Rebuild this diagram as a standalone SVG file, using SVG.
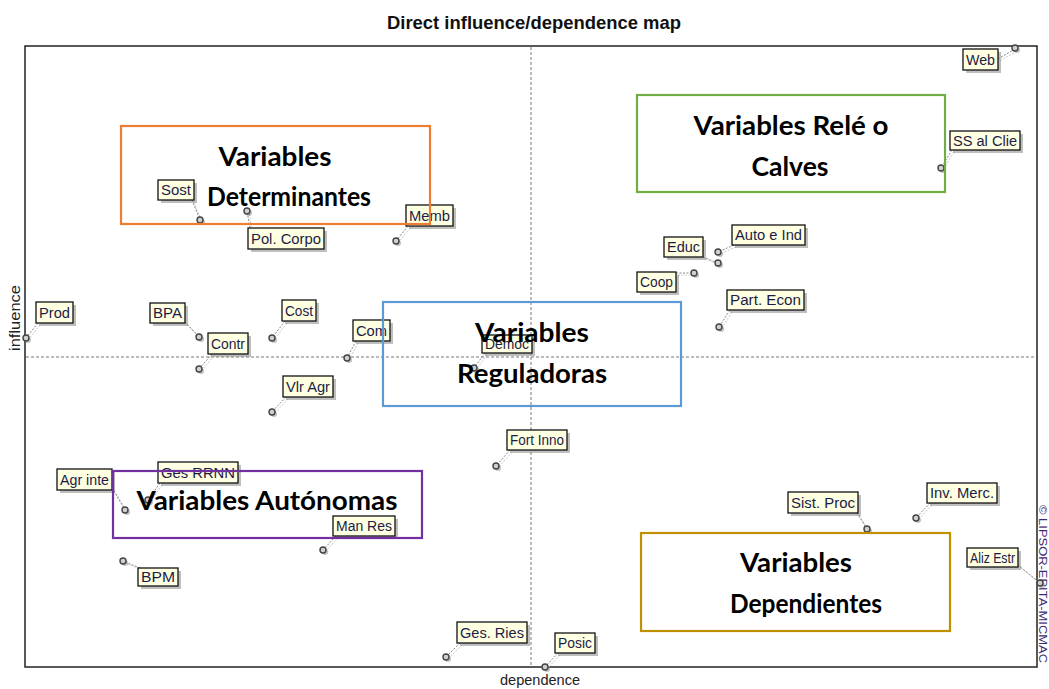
<svg xmlns="http://www.w3.org/2000/svg" width="1049" height="689" viewBox="0 0 1049 689">
<style>
  .title{font-family:"Liberation Sans",Arial,sans-serif;font-weight:bold;font-size:19px;fill:#111}
  .axis{font-family:"Liberation Sans",Arial,sans-serif;font-size:14px;fill:#222}
  .frame{fill:none;stroke:#222;stroke-width:1.5}
  .mid{stroke:#777;stroke-width:1;stroke-dasharray:3,2}
  .lbl rect.box{fill:#FFFFE1;stroke:#111;stroke-width:1.3}
  .lbl rect.sh{fill:#8a8a8a;opacity:.55}
  .lbl text{font-family:"Liberation Sans",Arial,sans-serif;font-size:15.5px;fill:#1c1c48}
  .conn line{stroke:#888;stroke-width:1;stroke-dasharray:2,1.5}
  .conn line.s{stroke:#c8c8c8}
  .pt{fill:#d0d0d0;stroke:#444;stroke-width:1.4}
  .pts{fill:#999;opacity:.6}
  .zone{fill:none;stroke-width:2.2}
  .zt{font-family:Lato,"Open Sans","Liberation Sans",sans-serif;font-weight:bold;font-size:26px;fill:#000;text-anchor:middle}
  .copy{font-family:"Liberation Sans",Arial,sans-serif;font-size:11px;fill:#3b2a70}
</style>

<text class="title" x="534" y="29" text-anchor="middle" textLength="294" lengthAdjust="spacingAndGlyphs">Direct influence/dependence map</text>

<!-- plot frame and median axes -->
<g id="plot">
  <rect class="frame" x="25" y="46" width="1012" height="621"/>
  <line class="mid" x1="531" y1="47" x2="531" y2="666"/>
  <line class="mid" x1="26" y1="357" x2="1036" y2="357"/>
  <text class="axis" transform="translate(20,318) rotate(-90)" text-anchor="middle" textLength="66" lengthAdjust="spacingAndGlyphs">influence</text>
  <text class="axis" x="540" y="685" text-anchor="middle" textLength="80" lengthAdjust="spacingAndGlyphs">dependence</text>
  <text class="copy" transform="translate(1039,505) rotate(90)" textLength="158" lengthAdjust="spacingAndGlyphs">© LIPSOR-EPITA-MICMAC</text>
</g>

<!-- leader lines from labels to their points -->
<g id="connectors" class="conn">
  <line class="s" x1="1000" y1="61" x2="1017" y2="51"/><line x1="998" y1="59" x2="1015" y2="49"/>
  <line class="s" x1="954" y1="152" x2="943" y2="170"/><line x1="952" y1="150" x2="941" y2="168"/>
  <line class="s" x1="194" y1="202" x2="202" y2="222"/><line x1="192" y1="200" x2="200" y2="220"/>
  <line class="s" x1="252" y1="230" x2="249" y2="213"/><line x1="250" y1="228" x2="247" y2="211"/>
  <line class="s" x1="410" y1="228" x2="398" y2="243"/><line x1="408" y1="226" x2="396" y2="241"/>
  <line class="s" x1="705" y1="259" x2="720" y2="265"/><line x1="703" y1="257" x2="718" y2="263"/>
  <line class="s" x1="736" y1="247" x2="720" y2="254"/><line x1="734" y1="245" x2="718" y2="252"/>
  <line class="s" x1="678" y1="275" x2="696" y2="275"/><line x1="676" y1="273" x2="694" y2="273"/>
  <line class="s" x1="732" y1="312" x2="721" y2="329"/><line x1="730" y1="310" x2="719" y2="327"/>
  <line class="s" x1="40" y1="325" x2="28" y2="340"/><line x1="38" y1="323" x2="26" y2="338"/>
  <line class="s" x1="187" y1="324" x2="201" y2="339"/><line x1="185" y1="322" x2="199" y2="337"/>
  <line class="s" x1="214" y1="356" x2="201" y2="371"/><line x1="212" y1="354" x2="199" y2="369"/>
  <line class="s" x1="287" y1="323" x2="274" y2="340"/><line x1="285" y1="321" x2="272" y2="338"/>
  <line class="s" x1="358" y1="343" x2="349" y2="360"/><line x1="356" y1="341" x2="347" y2="358"/>
  <line class="s" x1="288" y1="399" x2="274" y2="414"/><line x1="286" y1="397" x2="272" y2="412"/>
  <line class="s" x1="487" y1="355" x2="476" y2="370"/><line x1="485" y1="353" x2="474" y2="368"/>
  <line class="s" x1="512" y1="452" x2="498" y2="468"/><line x1="510" y1="450" x2="496" y2="466"/>
  <line class="s" x1="462" y1="645" x2="448" y2="659"/><line x1="460" y1="643" x2="446" y2="657"/>
  <line class="s" x1="560" y1="655" x2="547" y2="669"/><line x1="558" y1="653" x2="545" y2="667"/>
  <line class="s" x1="114" y1="490" x2="127" y2="512"/><line x1="112" y1="488" x2="125" y2="510"/>
  <line class="s" x1="162" y1="485" x2="150" y2="502"/><line x1="160" y1="483" x2="148" y2="500"/>
  <line class="s" x1="338" y1="538" x2="325" y2="552"/><line x1="336" y1="536" x2="323" y2="550"/>
  <line class="s" x1="142" y1="570" x2="125" y2="563"/><line x1="140" y1="568" x2="123" y2="561"/>
  <line class="s" x1="859" y1="515" x2="869" y2="531"/><line x1="857" y1="513" x2="867" y2="529"/>
  <line class="s" x1="932" y1="505" x2="918" y2="520"/><line x1="930" y1="503" x2="916" y2="518"/>
  <line class="s" x1="1020" y1="567" x2="1042" y2="585"/><line x1="1018" y1="565" x2="1040" y2="583"/>
</g>

<!-- data points -->
<g id="points">
  <g class="pts">
    <circle cx="1017" cy="50" r="3"/><circle cx="943" cy="170" r="3"/><circle cx="202" cy="222" r="3"/>
    <circle cx="249" cy="213" r="3"/><circle cx="398" cy="243" r="3"/><circle cx="720" cy="265" r="3"/>
    <circle cx="720" cy="254" r="3"/><circle cx="696" cy="275" r="3"/><circle cx="721" cy="329" r="3"/>
    <circle cx="28" cy="340" r="3"/><circle cx="201" cy="339" r="3"/><circle cx="201" cy="371" r="3"/>
    <circle cx="274" cy="340" r="3"/><circle cx="349" cy="360" r="3"/><circle cx="274" cy="414" r="3"/>
    <circle cx="476" cy="370" r="3"/><circle cx="498" cy="468" r="3"/><circle cx="448" cy="659" r="3"/>
    <circle cx="547" cy="669" r="3"/><circle cx="127" cy="512" r="3"/><circle cx="150" cy="502" r="3"/>
    <circle cx="325" cy="552" r="3"/><circle cx="125" cy="563" r="3"/><circle cx="869" cy="531" r="3"/>
    <circle cx="918" cy="520" r="3"/><circle cx="1042" cy="585" r="3"/>
  </g>
  <g class="pt">
    <circle cx="1015" cy="48" r="3"/><circle cx="941" cy="168" r="3"/><circle cx="200" cy="220" r="3"/>
    <circle cx="247" cy="211" r="3"/><circle cx="396" cy="241" r="3"/><circle cx="718" cy="263" r="3"/>
    <circle cx="718" cy="252" r="3"/><circle cx="694" cy="273" r="3"/><circle cx="719" cy="327" r="3"/>
    <circle cx="26" cy="338" r="3"/><circle cx="199" cy="337" r="3"/><circle cx="199" cy="369" r="3"/>
    <circle cx="272" cy="338" r="3"/><circle cx="347" cy="358" r="3"/><circle cx="272" cy="412" r="3"/>
    <circle cx="474" cy="368" r="3"/><circle cx="496" cy="466" r="3"/><circle cx="446" cy="657" r="3"/>
    <circle cx="545" cy="667" r="3"/><circle cx="125" cy="510" r="3"/><circle cx="148" cy="500" r="3"/>
    <circle cx="323" cy="550" r="3"/><circle cx="123" cy="561" r="3"/><circle cx="867" cy="529" r="3"/>
    <circle cx="916" cy="518" r="3"/><circle cx="1040" cy="583" r="3"/>
  </g>
</g>

<!-- variable labels -->
<g id="n-web" class="lbl"><rect class="sh" x="966" y="52" width="35" height="21"/><rect class="box" x="963" y="49" width="35" height="21"/><text x="966" y="65" textLength="29" lengthAdjust="spacingAndGlyphs">Web</text></g>
<g id="n-ssclie" class="lbl"><rect class="sh" x="953" y="134" width="70" height="19"/><rect class="box" x="950" y="131" width="70" height="19"/><text x="953" y="146" textLength="64" lengthAdjust="spacingAndGlyphs">SS al Clie</text></g>
<g id="n-sost" class="lbl"><rect class="sh" x="161" y="183" width="36" height="20"/><rect class="box" x="158" y="180" width="36" height="20"/><text x="161" y="195" textLength="30" lengthAdjust="spacingAndGlyphs">Sost</text></g>
<g id="n-polcorpo" class="lbl"><rect class="sh" x="251" y="231" width="76" height="21"/><rect class="box" x="248" y="228" width="76" height="21"/><text x="251" y="244" textLength="70" lengthAdjust="spacingAndGlyphs">Pol. Corpo</text></g>
<g id="n-memb" class="lbl"><rect class="sh" x="409" y="208" width="47" height="21"/><rect class="box" x="406" y="205" width="47" height="21"/><text x="409" y="221" textLength="41" lengthAdjust="spacingAndGlyphs">Memb</text></g>
<g id="n-educ" class="lbl"><rect class="sh" x="667" y="240" width="39" height="20"/><rect class="box" x="664" y="237" width="39" height="20"/><text x="667" y="252" textLength="33" lengthAdjust="spacingAndGlyphs">Educ</text></g>
<g id="n-autoind" class="lbl"><rect class="sh" x="735" y="228" width="73" height="20"/><rect class="box" x="732" y="225" width="73" height="20"/><text x="735" y="240" textLength="67" lengthAdjust="spacingAndGlyphs">Auto e Ind</text></g>
<g id="n-coop" class="lbl"><rect class="sh" x="640" y="275" width="39" height="20"/><rect class="box" x="637" y="272" width="39" height="20"/><text x="640" y="287" textLength="33" lengthAdjust="spacingAndGlyphs">Coop</text></g>
<g id="n-parteco" class="lbl"><rect class="sh" x="730" y="293" width="77" height="20"/><rect class="box" x="727" y="290" width="77" height="20"/><text x="730" y="305" textLength="71" lengthAdjust="spacingAndGlyphs">Part. Econ</text></g>
<g id="n-prod" class="lbl"><rect class="sh" x="39" y="305" width="37" height="21"/><rect class="box" x="36" y="302" width="37" height="21"/><text x="39" y="318" textLength="31" lengthAdjust="spacingAndGlyphs">Prod</text></g>
<g id="n-bpa" class="lbl"><rect class="sh" x="153" y="306" width="35" height="20"/><rect class="box" x="150" y="303" width="35" height="20"/><text x="153" y="318" textLength="29" lengthAdjust="spacingAndGlyphs">BPA</text></g>
<g id="n-contr" class="lbl"><rect class="sh" x="211" y="336" width="40" height="21"/><rect class="box" x="208" y="333" width="40" height="21"/><text x="211" y="349" textLength="34" lengthAdjust="spacingAndGlyphs">Contr</text></g>
<g id="n-cost" class="lbl"><rect class="sh" x="285" y="303" width="34" height="21"/><rect class="box" x="282" y="300" width="34" height="21"/><text x="285" y="316" textLength="28" lengthAdjust="spacingAndGlyphs">Cost</text></g>
<g id="n-com" class="lbl"><rect class="sh" x="356" y="323" width="37" height="21"/><rect class="box" x="353" y="320" width="37" height="21"/><text x="356" y="336" textLength="31" lengthAdjust="spacingAndGlyphs">Com</text></g>
<g id="n-vlragr" class="lbl"><rect class="sh" x="286" y="379" width="50" height="21"/><rect class="box" x="283" y="376" width="50" height="21"/><text x="286" y="392" textLength="44" lengthAdjust="spacingAndGlyphs">Vlr Agr</text></g>
<g id="n-democ" class="lbl"><rect class="sh" x="485" y="338" width="50" height="18"/><rect class="box" x="482" y="335" width="50" height="18"/><text x="485" y="349" textLength="44" lengthAdjust="spacingAndGlyphs">Democ</text></g>
<g id="n-fortinno" class="lbl"><rect class="sh" x="510" y="433" width="60" height="20"/><rect class="box" x="507" y="430" width="60" height="20"/><text x="510" y="445" textLength="54" lengthAdjust="spacingAndGlyphs">Fort Inno</text></g>
<g id="n-gesries" class="lbl"><rect class="sh" x="460" y="625" width="70" height="21"/><rect class="box" x="457" y="622" width="70" height="21"/><text x="460" y="638" textLength="64" lengthAdjust="spacingAndGlyphs">Ges. Ries</text></g>
<g id="n-posic" class="lbl"><rect class="sh" x="558" y="636" width="40" height="20"/><rect class="box" x="555" y="633" width="40" height="20"/><text x="558" y="648" textLength="34" lengthAdjust="spacingAndGlyphs">Posic</text></g>
<g id="n-agrinte" class="lbl"><rect class="sh" x="60" y="472" width="55" height="21"/><rect class="box" x="57" y="469" width="55" height="21"/><text x="60" y="485" textLength="49" lengthAdjust="spacingAndGlyphs">Agr inte</text></g>
<g id="n-gesrrnn" class="lbl"><rect class="sh" x="161" y="465" width="80" height="21"/><rect class="box" x="158" y="462" width="80" height="21"/><text x="161" y="478" textLength="74" lengthAdjust="spacingAndGlyphs">Ges RRNN</text></g>
<g id="n-manres" class="lbl"><rect class="sh" x="336" y="519" width="62" height="20"/><rect class="box" x="333" y="516" width="62" height="20"/><text x="336" y="531" textLength="56" lengthAdjust="spacingAndGlyphs">Man Res</text></g>
<g id="n-bpm" class="lbl"><rect class="sh" x="141" y="571" width="40" height="18"/><rect class="box" x="138" y="568" width="40" height="18"/><text x="141" y="582" textLength="34" lengthAdjust="spacingAndGlyphs">BPM</text></g>
<g id="n-sistproc" class="lbl"><rect class="sh" x="791" y="495" width="70" height="21"/><rect class="box" x="788" y="492" width="70" height="21"/><text x="791" y="508" textLength="64" lengthAdjust="spacingAndGlyphs">Sist. Proc</text></g>
<g id="n-invmerc" class="lbl"><rect class="sh" x="930" y="486" width="70" height="20"/><rect class="box" x="927" y="483" width="70" height="20"/><text x="930" y="498" textLength="64" lengthAdjust="spacingAndGlyphs">Inv. Merc.</text></g>
<g id="n-alizestr" class="lbl"><rect class="sh" x="970" y="551" width="51" height="19"/><rect class="box" x="967" y="548" width="51" height="19"/><text x="970" y="563" textLength="45" lengthAdjust="spacingAndGlyphs">Aliz Estr</text></g>

<!-- quadrant annotation boxes -->
<g id="z-determinantes">
  <rect class="zone" x="121" y="126" width="309" height="98" stroke="#ED7D31"/>
  <text class="zt" x="275" y="166" textLength="113" lengthAdjust="spacingAndGlyphs">Variables</text>
  <text class="zt" x="289" y="206" textLength="164" lengthAdjust="spacingAndGlyphs">Determinantes</text>
</g>
<g id="z-rele">
  <rect class="zone" x="637" y="95" width="308" height="97" stroke="#70AD47"/>
  <text class="zt" x="791" y="135" textLength="195" lengthAdjust="spacingAndGlyphs">Variables Relé o</text>
  <text class="zt" x="790" y="176" textLength="77" lengthAdjust="spacingAndGlyphs">Calves</text>
</g>
<g id="z-reguladoras">
  <rect class="zone" x="383" y="302" width="298" height="104" stroke="#5B9BD5"/>
  <text class="zt" x="532" y="342" textLength="114" lengthAdjust="spacingAndGlyphs">Variables</text>
  <text class="zt" x="532" y="383" textLength="150" lengthAdjust="spacingAndGlyphs">Reguladoras</text>
</g>
<g id="z-autonomas">
  <rect class="zone" x="113" y="471" width="309" height="67" stroke="#7030A0"/>
  <text class="zt" x="267" y="510" textLength="261" lengthAdjust="spacingAndGlyphs">Variables Autónomas</text>
</g>
<g id="z-dependientes">
  <rect class="zone" x="641" y="533" width="309" height="98" stroke="#BF9000"/>
  <text class="zt" x="796" y="572" textLength="112" lengthAdjust="spacingAndGlyphs">Variables</text>
  <text class="zt" x="806" y="613" textLength="152" lengthAdjust="spacingAndGlyphs">Dependientes</text>
</g>
</svg>
